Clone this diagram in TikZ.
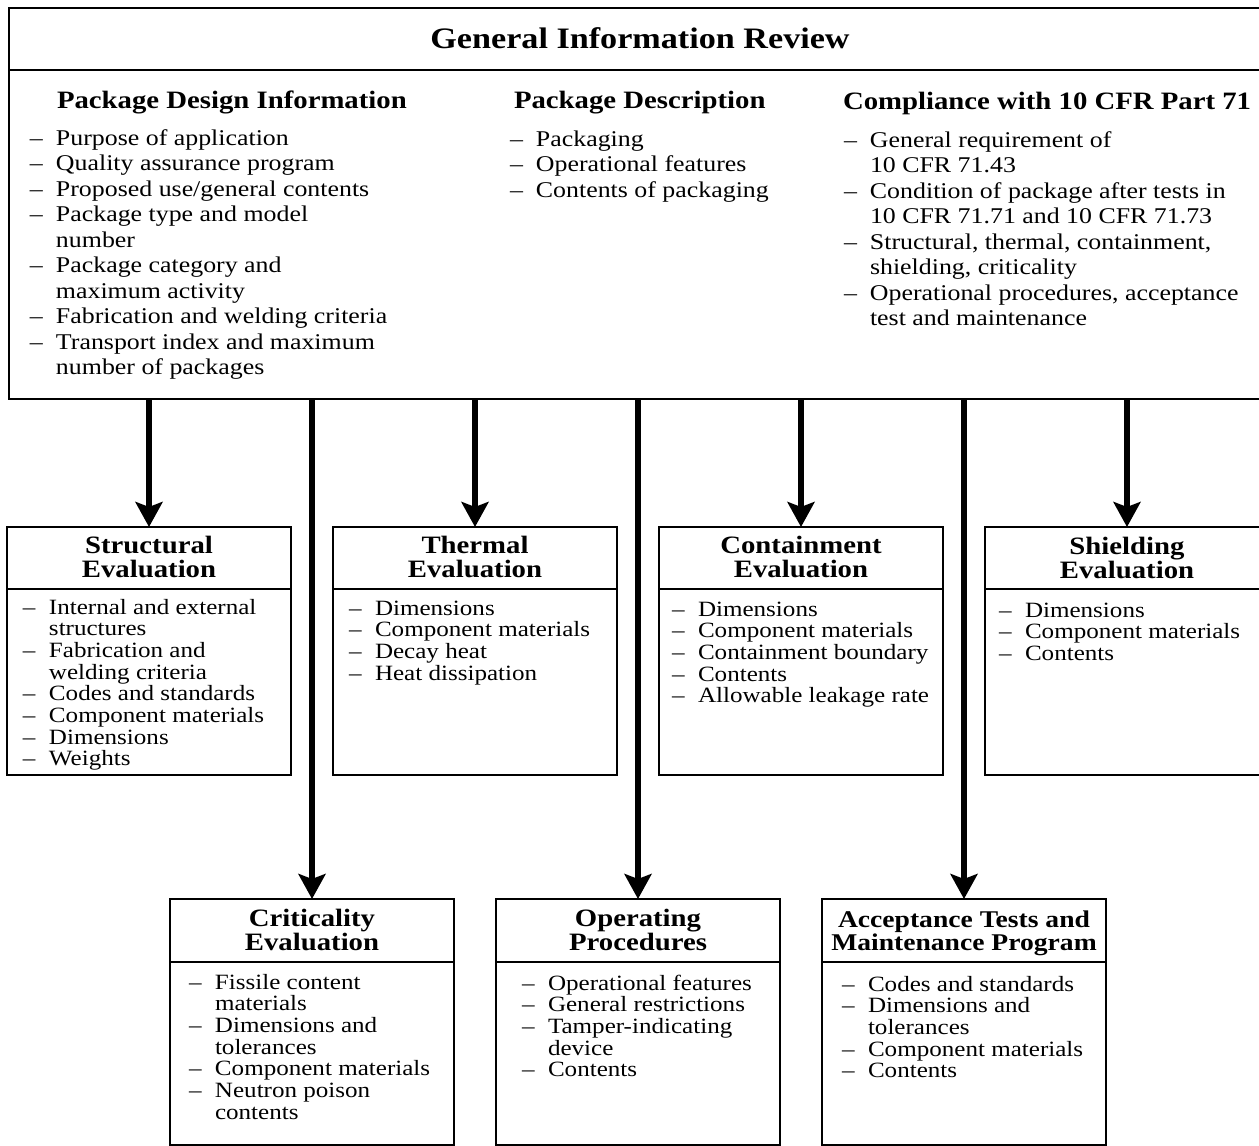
\documentclass[tikz,border=0pt]{standalone}
\usepackage{fontspec}
\setmainfont{Liberation Serif}[FakeStretch=1.15]
\usetikzlibrary{arrows.meta}
\newcommand\bodyA{\fontsize{22.5}{25.5}\selectfont}
\newcommand\bodyB{\fontsize{21.8}{21.7}\selectfont}
\newcommand\headA{\fontsize{25}{28}\selectfont\bfseries}
\newcommand\boxT{\fontsize{25}{24}\selectfont\bfseries}
\newcommand\boxTs{\fontsize{24}{23}\selectfont\bfseries}
\newcommand\titleT{\fontsize{29.7}{32}\selectfont\bfseries}
\newcommand\dl{\makebox[26pt][l]{–}}
\newcommand\cl{\hspace*{26pt}}
\begin{document}
\begin{tikzpicture}[x=1pt,y=-1pt,
  boxline/.style={line width=2.8pt},
  evbox/.style={draw, line width=2.8pt, minimum width=284pt, inner sep=0pt, outer sep=0pt},
  txt/.style={inner sep=0pt, outer sep=0pt},
  arr/.style={line width=6.5pt, -{Stealth[length=25pt,width=27pt,inset=5pt]}}]
\useasboundingbox (0,0) rectangle (1259,1146);
\fill[white] (0,0) rectangle (1259,1146);

% top box
\node[draw, line width=2.8pt, minimum width=1262pt, minimum height=391pt, anchor=north west, inner sep=0pt, outer sep=0pt] (gir) at (9,8) {};
\coordinate (tdiv) at (0,70);
\draw[boxline] (gir.west |- tdiv) -- (gir.east |- tdiv);
\node[txt, anchor=base, font=\titleT] (girt) at (640,48) {General Information Review};

\node[txt, anchor=base west, font=\headA] (h1) at (57,108) {Package Design Information};
\node[txt, anchor=base west, font=\headA] (h2) at (514,108) {Package Description};
\node[txt, anchor=base west, font=\headA] (h3) at (843,109) {Compliance with 10 CFR Part 71};

\node[txt, anchor=base west, font=\bodyA] (l1) at (30,145) {\begin{tabular}[t]{@{}l@{}}
\dl Purpose of application\\
\dl Quality assurance program\\
\dl Proposed use/general contents\\
\dl Package type and model\\
\cl number\\
\dl Package category and\\
\cl maximum activity\\
\dl Fabrication and welding criteria\\
\dl Transport index and maximum\\
\cl number of packages
\end{tabular}};
\node[txt, anchor=base west, font=\bodyA] (l2) at (510,146) {\begin{tabular}[t]{@{}l@{}}
\dl Packaging\\
\dl Operational features\\
\dl Contents of packaging
\end{tabular}};
\node[txt, anchor=base west, font=\bodyA] (l3) at (844,147) {\begin{tabular}[t]{@{}l@{}}
\dl General requirement of\\
\cl 10 CFR 71.43\\
\dl Condition of package after tests in\\
\cl 10 CFR 71.71 and 10 CFR 71.73\\
\dl Structural, thermal, containment,\\
\cl shielding, criticality\\
\dl Operational procedures, acceptance\\
\cl test and maintenance
\end{tabular}};

% upper row boxes
\node[evbox, minimum height=248pt] (s1) at (149,651) {};
\node[evbox, minimum height=248pt] (s2) at (475,651) {};
\node[evbox, minimum height=248pt] (s3) at (801,651) {};
\node[evbox, minimum height=248pt] (s4) at (1127,651) {};
% lower row boxes
\node[evbox, minimum height=246pt] (b1) at (312,1022) {};
\node[evbox, minimum height=246pt] (b2) at (638,1022) {};
\node[evbox, minimum height=246pt] (b3) at (964,1022) {};

\foreach \n in {s1,s2,s3,s4}
  \draw[boxline] ([yshift=-62pt]\n.north west) -- ([yshift=-62pt]\n.north east);
\foreach \n in {b1,b2,b3}
  \draw[boxline] ([yshift=-63pt]\n.north west) -- ([yshift=-63pt]\n.north east);

% titles
\node[txt, anchor=base, font=\boxT] (s1t) at (149,553) {\begin{tabular}[t]{@{}c@{}}Structural\\Evaluation\end{tabular}};
\node[txt, anchor=base, font=\boxT] (s2t) at (475,553) {\begin{tabular}[t]{@{}c@{}}Thermal\\Evaluation\end{tabular}};
\node[txt, anchor=base, font=\boxT] (s3t) at (801,553) {\begin{tabular}[t]{@{}c@{}}Containment\\Evaluation\end{tabular}};
\node[txt, anchor=base, font=\boxT] (s4t) at (1127,554) {\begin{tabular}[t]{@{}c@{}}Shielding\\Evaluation\end{tabular}};
\node[txt, anchor=base, font=\boxT] (b1t) at (312,926) {\begin{tabular}[t]{@{}c@{}}Criticality\\Evaluation\end{tabular}};
\node[txt, anchor=base, font=\boxT] (b2t) at (638,926) {\begin{tabular}[t]{@{}c@{}}Operating\\Procedures\end{tabular}};
\node[txt, anchor=base, font=\boxTs] (b3t) at (964,927) {\begin{tabular}[t]{@{}c@{}}Acceptance Tests and\\Maintenance Program\end{tabular}};

% bodies
\node[txt, anchor=base west, font=\bodyB] (s1b) at (23,614) {\begin{tabular}[t]{@{}l@{}}
\dl Internal and external\\
\cl structures\\
\dl Fabrication and\\
\cl welding criteria\\
\dl Codes and standards\\
\dl Component materials\\
\dl Dimensions\\
\dl Weights
\end{tabular}};
\node[txt, anchor=base west, font=\bodyB] (s2b) at (349,615) {\begin{tabular}[t]{@{}l@{}}
\dl Dimensions\\
\dl Component materials\\
\dl Decay heat\\
\dl Heat dissipation
\end{tabular}};
\node[txt, anchor=base west, font=\bodyB] (s3b) at (672,616) {\begin{tabular}[t]{@{}l@{}}
\dl Dimensions\\
\dl Component materials\\
\dl Containment boundary\\
\dl Contents\\
\dl Allowable leakage rate
\end{tabular}};
\node[txt, anchor=base west, font=\bodyB] (s4b) at (999,617) {\begin{tabular}[t]{@{}l@{}}
\dl Dimensions\\
\dl Component materials\\
\dl Contents
\end{tabular}};
\node[txt, anchor=base west, font=\bodyB] (b1b) at (189,989) {\begin{tabular}[t]{@{}l@{}}
\dl Fissile content\\
\cl materials\\
\dl Dimensions and\\
\cl tolerances\\
\dl Component materials\\
\dl Neutron poison\\
\cl contents
\end{tabular}};
\node[txt, anchor=base west, font=\bodyB] (b2b) at (522,990) {\begin{tabular}[t]{@{}l@{}}
\dl Operational features\\
\dl General restrictions\\
\dl Tamper-indicating\\
\cl device\\
\dl Contents
\end{tabular}};
\node[txt, anchor=base west, font=\bodyB] (b3b) at (842,991) {\begin{tabular}[t]{@{}l@{}}
\dl Codes and standards\\
\dl Dimensions and\\
\cl tolerances\\
\dl Component materials\\
\dl Contents
\end{tabular}};

% arrows
\foreach \n in {s1,s2,s3,s4,b1,b2,b3}
  \draw[arr] (\n.north |- gir.south) -- (\n.north);
\end{tikzpicture}
\end{document}
